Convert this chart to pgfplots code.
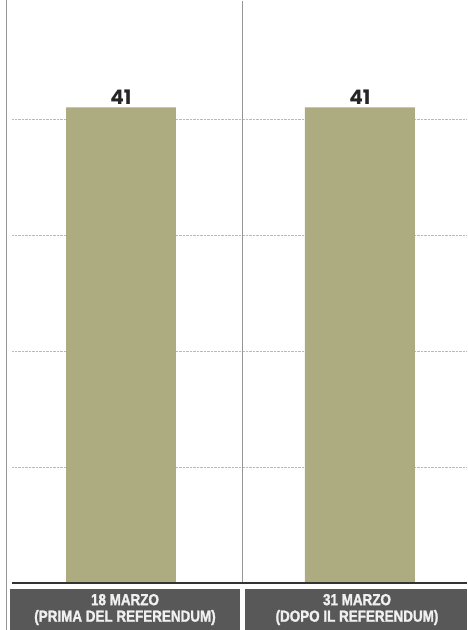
\documentclass[border=0pt]{standalone}
\usepackage{fontspec}
\setmainfont{Liberation Sans}
\newfontfamily\narrowfam[FakeStretch=0.84, BoldFeatures={FakeBold=1.6}]{Liberation Sans}
\newfontfamily\heavy{Poppins Bold}
\usepackage{pgfplots}
\pgfplotsset{compat=1.18}
\definecolor{barkhaki}{RGB}{173,171,128}
\definecolor{boxgray}{RGB}{88,88,88}
\definecolor{sepgray}{RGB}{150,150,150}

\begin{document}
\begin{tikzpicture}[x=1pt,y=1pt]
  % page frame: 467 x 630
  \path[use as bounding box] (0,0) rectangle (467,630);
  \draw[sepgray, line width=1pt] (6,0) -- (6,630);

  \begin{axis}[
      at={(12pt,47pt)},
      anchor=south west,
      scale only axis,
      width=455pt,
      height=580pt,
      xmin=-0.456, xmax=1.448,
      ymin=0, ymax=50,
      axis line style={draw=none},
      tick style={draw=none},
      xtick=\empty,
      ytick={10,20,30,40},
      yticklabels={},
      ymajorgrids,
      grid style={densely dotted, gray!55, line width=0.7pt},
      clip=false,
    ]
    \addplot[ybar, bar width=0.46, fill=barkhaki, draw=none,
      nodes near coords,
      nodes near coords style={/pgf/number format/assume math mode=true,
        font=\heavy\fontsize{20}{20}\selectfont, text=black!85, yshift=-1pt}]
      coordinates {(0,41) (1,41)};
    % separator between the two dates
    \draw[sepgray, line width=0.8pt] (axis cs:0.51,0) -- (axis cs:0.51,50.2);
  \end{axis}

  % baseline
  \draw[black!80, line width=2pt] (12,47) -- (467,47);

  % category label boxes
  \fill[boxgray] (10,0) rectangle (240,41);
  \fill[boxgray] (245,0) rectangle (467,41);
  \node[text=white!94!black, align=center, font=\narrowfam\bfseries\fontsize{16}{16.5}\selectfont]
    at (125,20.5) {18 MARZO\\(PRIMA DEL REFERENDUM)};
  \node[text=white!94!black, align=center, font=\narrowfam\bfseries\fontsize{16}{16.5}\selectfont]
    at (357,20.5) {31 MARZO\\(DOPO IL REFERENDUM)};
\end{tikzpicture}
\end{document}
